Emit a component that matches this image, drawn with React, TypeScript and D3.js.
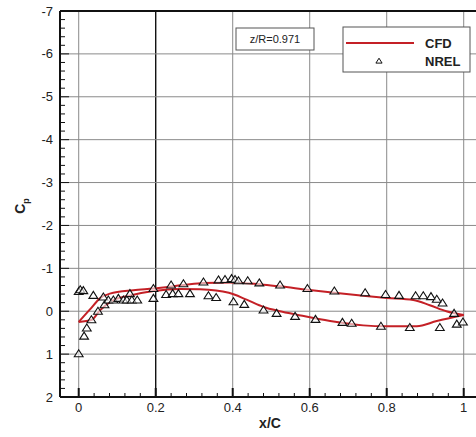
import React from "react";
import * as d3 from "d3";

const nrelX = [0, 0, 0.004, 0.012, 0.014, 0.021, 0.033, 0.038, 0.05, 0.064, 0.067, 0.077, 0.09, 0.103, 0.116, 0.125, 0.133, 0.138, 0.152, 0.194, 0.194, 0.227, 0.24, 0.244, 0.259, 0.272, 0.289, 0.324, 0.337, 0.357, 0.363, 0.38, 0.397, 0.406, 0.415, 0.402, 0.43, 0.439, 0.469, 0.48, 0.514, 0.523, 0.562, 0.594, 0.615, 0.664, 0.685, 0.709, 0.744, 0.785, 0.797, 0.832, 0.86, 0.875, 0.895, 0.915, 0.93, 0.938, 0.945, 0.975, 0.982, 0.998];
const nrelCp = [0.99, -0.46, -0.5, -0.48, 0.58, 0.39, 0.2, -0.37, 0.0, -0.33, -0.15, -0.26, -0.26, -0.3, -0.26, -0.26, -0.41, -0.26, -0.26, -0.53, -0.3, -0.39, -0.61, -0.41, -0.41, -0.64, -0.41, -0.68, -0.36, -0.32, -0.73, -0.74, -0.76, -0.74, -0.71, -0.22, -0.16, -0.71, -0.66, -0.03, 0.05, -0.61, 0.12, -0.53, 0.19, -0.47, 0.26, 0.28, -0.43, 0.35, -0.39, -0.37, 0.38, -0.36, -0.36, -0.34, -0.28, 0.38, -0.19, 0.05, 0.3, 0.25];

const cfdUpperX = [0, 0.03, 0.055, 0.081, 0.142, 0.194, 0.272, 0.324, 0.393, 0.48, 0.523, 0.594, 0.664, 0.739, 0.8, 0.869, 0.912, 0.955, 1.0];
const cfdUpperCp = [0.25, -0.05, -0.3, -0.41, -0.49, -0.53, -0.61, -0.66, -0.67, -0.62, -0.58, -0.5, -0.43, -0.36, -0.31, -0.26, -0.14, 0.0, 0.09];
const cfdLowerX = [0, 0.034, 0.055, 0.09, 0.125, 0.194, 0.263, 0.315, 0.39, 0.436, 0.48, 0.523, 0.566, 0.653, 0.739, 0.8, 0.878, 0.93, 1.0];
const cfdLowerCp = [0.25, 0.2, -0.02, -0.26, -0.35, -0.47, -0.52, -0.51, -0.43, -0.27, -0.1, 0.0, 0.08, 0.23, 0.33, 0.35, 0.35, 0.23, 0.09];

const xTicks = [0, 0.2, 0.4, 0.6, 0.8, 1];
const xTickLabels = ["0", "0.2", "0.4", "0.6", "0.8", "1"];
const yTicks = [-7, -6, -5, -4, -3, -2, -1, 0, 1, 2];
const yTickLabels = ["-7", "-6", "-5", "-4", "-3", "-2", "-1", "0", "1", "2"];

const W = 476;
const H = 437;
const L = 60, R = 480, T = 11, B = 397;
const RED = "#c42026";
const FONT = "'Liberation Sans', Arial, sans-serif";

export default function App() {
  const x = d3.scaleLinear().domain([-0.0486, 1.0423]).range([L, R]);
  const y = d3.scaleLinear().domain([-7, 2]).range([T, B]);

  const line = d3
    .line<[number, number]>()
    .x((d) => x(d[0]))
    .y((d) => y(d[1]))
    .curve(d3.curveMonotoneX);

  const upper: [number, number][] = cfdUpperX.map((v, i) => [v, cfdUpperCp[i]]);
  const lower: [number, number][] = cfdLowerX.map((v, i) => [v, cfdLowerCp[i]]);

  const yMinor = d3.range(-7, 2.001, 0.2);
  const xMinor = d3.range(0, 1.001, 0.04);

  const tri = (cx: number, cy: number, s: number) =>
    `M${cx},${cy - s}L${cx + s * 1.1},${cy + s * 0.75}L${cx - s * 1.1},${cy + s * 0.75}Z`;

  return (
    <svg width={W} height={H} style={{ position: "absolute", left: 0, top: 0, background: "#fff" }}>
      <rect x={0} y={0} width={W} height={H} fill="#fff" />
      {/* grid */}
      {xTicks.map((t) => (
        <line key={"gx" + t} x1={x(t)} x2={x(t)} y1={T} y2={B}
          stroke={t === 0.2 ? "#111" : "#8a8a8a"} strokeWidth={t === 0.2 ? 1.4 : 1} />
      ))}
      {yTicks.map((t) => (
        <line key={"gy" + t} x1={L} x2={R} y1={y(t)} y2={y(t)} stroke="#8a8a8a" strokeWidth={1} />
      ))}
      {/* minor ticks */}
      {yMinor.map((t, i) => (
        <line key={"ym" + i} x1={L} x2={L + (Math.abs(t - Math.round(t)) < 1e-6 ? 9 : 5)} y1={y(t)} y2={y(t)} stroke="#111" strokeWidth={1} />
      ))}
      {xMinor.map((t, i) => (
        <line key={"xm" + i} x1={x(t)} x2={x(t)} y1={B} y2={B - (Math.abs(t * 5 - Math.round(t * 5)) < 1e-6 ? 9 : 4)}
          stroke="#111" strokeWidth={Math.abs(t * 5 - Math.round(t * 5)) < 1e-6 ? 2 : 1} />
      ))}
      {/* frame */}
      <line x1={L} x2={L} y1={T} y2={B} stroke="#111" strokeWidth={2} />
      <line x1={L} x2={R} y1={B} y2={B} stroke="#111" strokeWidth={2} />
      <line x1={L} x2={R} y1={T} y2={T} stroke="#111" strokeWidth={2} />
      {/* tick labels */}
      {yTicks.map((t, i) => (
        <text key={"yl" + t} x={L - 7} y={y(t)} dy="0.35em" textAnchor="end" fontFamily={FONT} fontSize={13} fill="#222">
          {yTickLabels[i]}
        </text>
      ))}
      {xTicks.map((t, i) => (
        <text key={"xl" + t} x={x(t)} y={B + 15} textAnchor="middle" fontFamily={FONT} fontSize={13} fill="#222">
          {xTickLabels[i]}
        </text>
      ))}
      {/* axis titles */}
      <text x={270} y={428} textAnchor="middle" fontFamily={FONT} fontSize={14} fontWeight="bold" fill="#222">x/C</text>
      <text transform="translate(25,206) rotate(-90)" textAnchor="middle" fontFamily={FONT} fontSize={14} fontWeight="bold" fill="#222">
        C<tspan fontSize={9} dy={4}>p</tspan>
      </text>
      {/* CFD lines */}
      <path d={line(upper) || ""} fill="none" stroke={RED} strokeWidth={2} />
      <path d={line(lower) || ""} fill="none" stroke={RED} strokeWidth={2} />
      {/* NREL */}
      {nrelX.map((v, i) => (
        <path key={"n" + i} d={tri(x(v), y(nrelCp[i]), 4)} fill="#fff" fillOpacity={0.6} stroke="#111" strokeWidth={1.1} />
      ))}
      {/* annotation */}
      <rect x={236} y={28} width={78} height={22} fill="#fff" stroke="#555" strokeWidth={1} />
      <text x={275} y={43} textAnchor="middle" fontFamily={FONT} fontSize={11} fill="#222">z/R=0.971</text>
      {/* legend */}
      <rect x={343} y={27} width={127} height={45} fill="#fff" stroke="#555" strokeWidth={1} />
      <line x1={346} x2={414} y1={43} y2={43} stroke={RED} strokeWidth={2} />
      <path d={tri(379, 61, 2.8)} fill="#fff" stroke="#111" strokeWidth={1} />
      <text x={425} y={48} fontFamily={FONT} fontSize={13} fontWeight="bold" fill="#222">CFD</text>
      <text x={425} y={66} fontFamily={FONT} fontSize={13} fontWeight="bold" fill="#222">NREL</text>
    </svg>
  );
}
